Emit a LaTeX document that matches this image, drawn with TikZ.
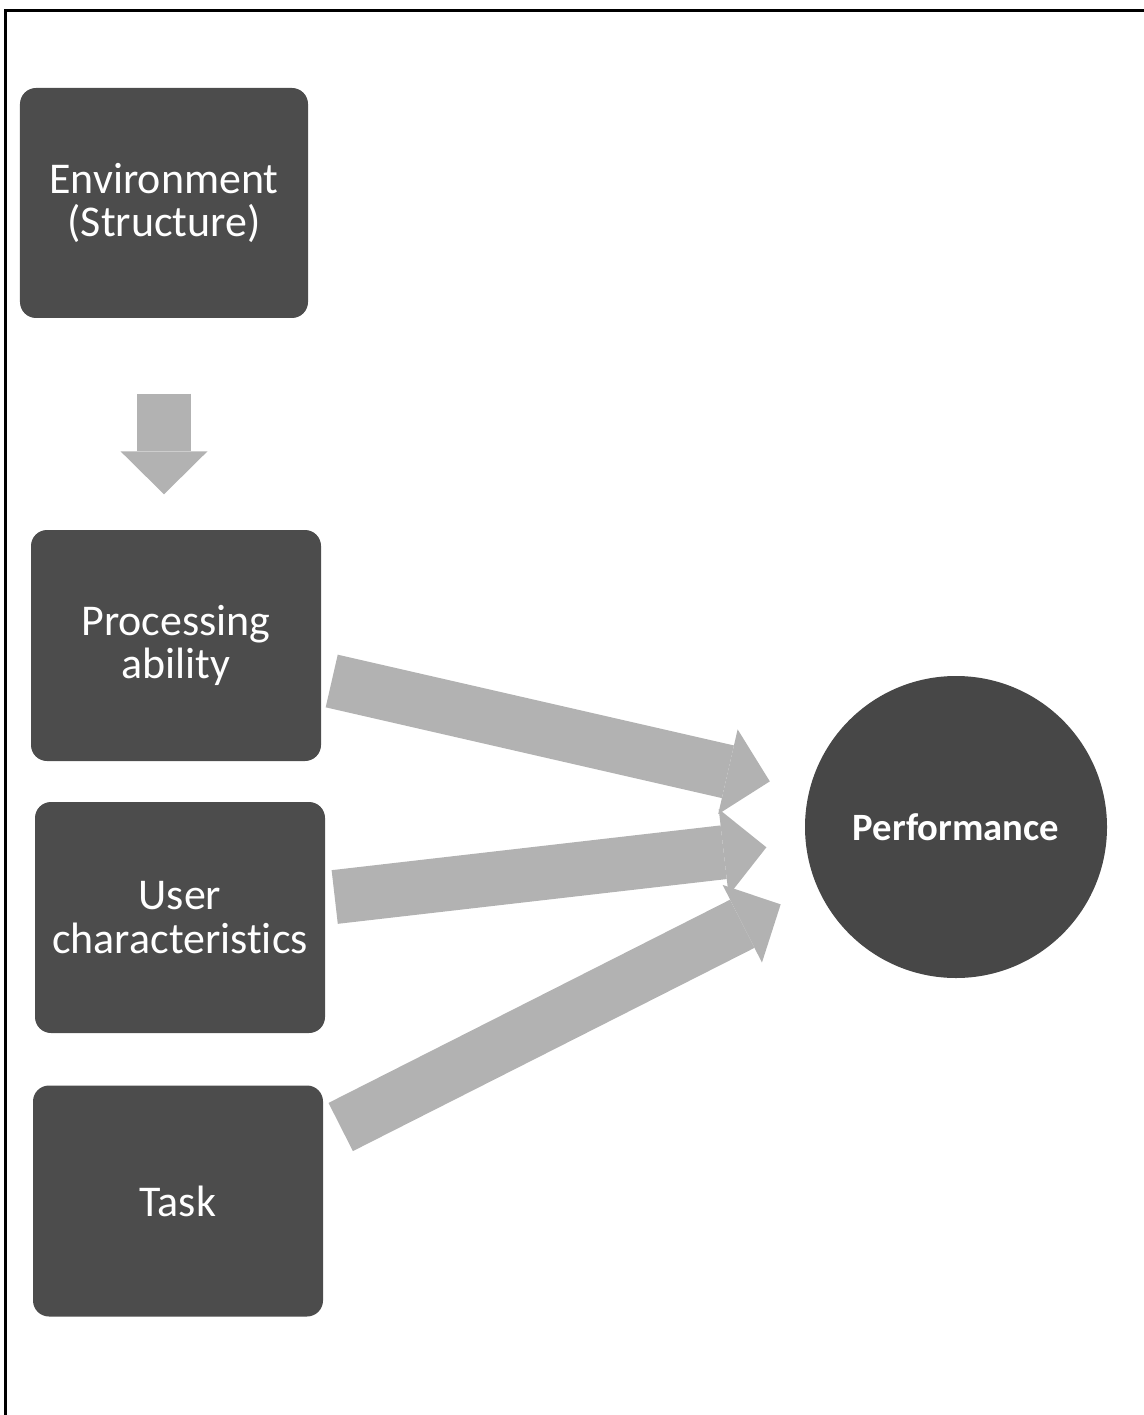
\documentclass[tikz,border=0pt]{standalone}
\usepackage{fontspec}
\setmainfont{Carlito}[Ligatures=NoCommon]
\usetikzlibrary{arrows.meta}

\tikzset{
  blocco/.style={fill=black!70, rounded corners=0.16cm, minimum width=2.9cm,
    minimum height=2.31cm, inner sep=0pt, text=white, align=center,
    font=\fontsize{12.5}{12.4}\selectfont},
  cerchio/.style={circle, fill=black!72, minimum size=3.02cm, inner sep=0pt,
    text=white, font=\fontsize{11}{12}\selectfont\bfseries},
  freccia/.style={line width=0.54cm, draw=black!30,
    -{Triangle[length=0.43cm, width=0.87cm, line width=0pt]}}
}

\begin{document}
\begin{tikzpicture}
  \useasboundingbox (0,0) rectangle (11.44,-14.15);

  % cornice
  \draw[line width=0.03cm] (0.06,-14.15) -- (0.06,-0.11) -- (11.44,-0.11);

  % blocchi
  \node[blocco, minimum width=2.88cm, minimum height=2.3cm] (env) at (1.64,-2.03) {Environment\\(Structure)};
  \node[blocco] (proc) at (1.76,-6.455) {Processing\\ability};
  \node[blocco] (user) at (1.80,-9.175) {User\\characteristics};
  \node[blocco] (task) at (1.78,-12.01) {Task};
  \node[cerchio] (perf) at (9.56,-8.27) {Performance};

  % frecce
  \draw[freccia, shorten <=0.75cm, shorten >=0.35cm] (env.south) -- (env.south |- proc.north);
  \draw[freccia, shorten >=0.4cm] ([shift={(0.10,-0.355)}]proc.east) -- (perf.166.6);
  \draw[freccia, shorten >=0.39cm] ([shift={(0.09,0.205)}]user.east) -- (perf.186.7);
  \draw[freccia, shorten >=0.4cm] ([shift={(0.17,0.74)}]task.east) -- (perf.203.6);
\end{tikzpicture}
\end{document}
